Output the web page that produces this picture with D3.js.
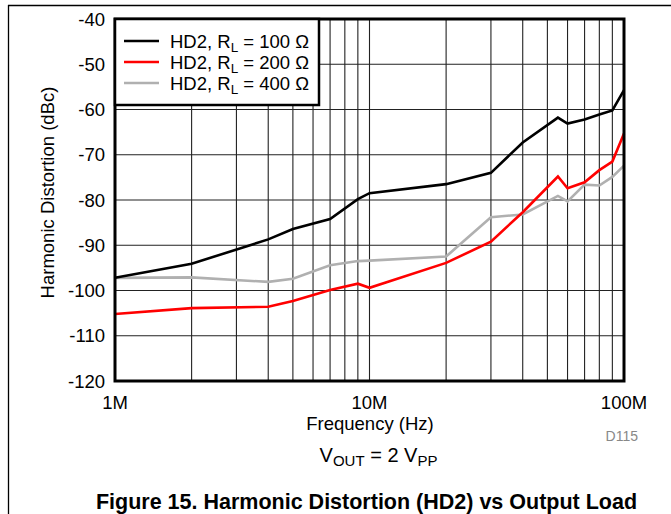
<!DOCTYPE html>
<html><head><meta charset="utf-8">
<script src="https://cdn.jsdelivr.net/npm/d3@7"></script>
<style>
body{margin:0;background:#fff;}
svg{display:block;font-family:"Liberation Sans",Arial,Helvetica,sans-serif;}
</style></head>
<body>
<svg id="chart" width="671" height="514"></svg>
<script>
// Frequencies in Hz
const freqs = [1e6, 2e6, 4e6, 5e6, 7e6, 9e6, 10e6, 20e6, 30e6, 40e6, 55e6, 60e6, 70e6, 80e6, 90e6, 100e6];
const hd2_100 = [-97.2, -94.1, -88.7, -86.4, -84.2, -79.8, -78.5, -76.5, -74.0, -67.3, -61.8, -63.1, -62.2, -61.1, -60.2, -55.7];
const hd2_200 = [-105.2, -103.9, -103.6, -102.3, -99.9, -98.5, -99.4, -93.9, -89.2, -82.7, -74.8, -77.4, -76.1, -73.4, -71.5, -65.3];
const hd2_400 = [-97.2, -97.1, -98.1, -97.4, -94.4, -93.5, -93.4, -92.5, -83.8, -83.2, -79.1, -80.3, -76.6, -76.8, -74.9, -72.4];
const seriesNames = ["100", "200", "400"];
const seriesColors = ["#000000", "#ff0000", "#b0b0b0"];
const yTicks = [-40, -50, -60, -70, -80, -90, -100, -110, -120];
const xTickVals = [1e6, 1e7, 1e8];
const xTickLabels = ["1M", "10M", "100M"];

const svg = d3.select("#chart");
const L = 115, R = 624, T = 19, B = 381;
const FS = 18.5;
const x = d3.scaleLog().domain([1e6, 1e8]).range([L, R]);
const y = d3.scaleLinear().domain([-120, -40]).range([B, T]);

// outer frame lines
svg.append("line").attr("x1", 8.5).attr("x2", 8.5).attr("y1", 5).attr("y2", 514).attr("stroke", "#000").attr("stroke-width", 1.3);
svg.append("line").attr("x1", 8).attr("x2", 671).attr("y1", 5.5).attr("y2", 5.5).attr("stroke", "#000").attr("stroke-width", 1.3);

// grid
const minor = [];
for (let d = 1e6; d < 1e8; d *= 10) for (let k = 2; k <= 9; k++) minor.push(d * k);
minor.push(1e7);
const g = svg.append("g");
g.selectAll(".vg").data(minor).enter().append("line")
  .attr("x1", d => x(d)).attr("x2", d => x(d)).attr("y1", T).attr("y2", B)
  .attr("stroke", "#222").attr("stroke-width", 1.1);
g.selectAll(".hg").data(yTicks).enter().append("line")
  .attr("x1", L).attr("x2", R).attr("y1", d => y(d)).attr("y2", d => y(d))
  .attr("stroke", "#222").attr("stroke-width", 1.1);

// series
const allSeries = [hd2_100, hd2_200, hd2_400];
const line = d3.line().x(d => x(d[0])).y(d => y(d[1]));
[2, 1, 0].forEach(i => {
  svg.append("path").datum(freqs.map((f, j) => [f, allSeries[i][j]]))
    .attr("d", line).attr("fill", "none").attr("stroke", seriesColors[i])
    .attr("stroke-width", 2.6).attr("stroke-linejoin", "miter");
});

// plot frame
svg.append("rect").attr("x", L).attr("y", T).attr("width", R - L).attr("height", B - T)
  .attr("fill", "none").attr("stroke", "#000").attr("stroke-width", 3);

// legend
const lg = svg.append("g");
lg.append("rect").attr("x", L).attr("y", T).attr("width", 204).attr("height", 86)
  .attr("fill", "#fff").attr("stroke", "#000").attr("stroke-width", 2.5);
seriesNames.forEach((n, i) => {
  const yy = 41 + i * 21;
  lg.append("line").attr("x1", 124).attr("x2", 159).attr("y1", yy).attr("y2", yy)
    .attr("stroke", seriesColors[i]).attr("stroke-width", 2.6);
  const t = lg.append("text").attr("x", 170).attr("y", yy + 6.5).attr("font-size", FS).attr("fill", "#000");
  t.append("tspan").text("HD2, R");
  t.append("tspan").attr("font-size", 13.5).attr("dy", 4).text("L");
  t.append("tspan").attr("dy", -4).text(" = " + n + " \u03A9");
});

// y tick labels
svg.selectAll(".yt").data(yTicks).enter().append("text")
  .attr("x", 105).attr("y", d => y(d) + 6.5).attr("text-anchor", "end")
  .attr("font-size", FS).attr("fill", "#000").text(d => d);

// x tick labels
svg.selectAll(".xt").data(xTickVals).enter().append("text")
  .attr("x", d => x(d)).attr("y", 409).attr("text-anchor", "middle")
  .attr("font-size", FS).attr("fill", "#000").text((d, i) => xTickLabels[i]);

// axis titles
svg.append("text").attr("x", 370).attr("y", 429.5).attr("text-anchor", "middle")
  .attr("font-size", FS).text("Frequency (Hz)");
svg.append("text").attr("transform", "translate(54,192.5) rotate(-90)").attr("text-anchor", "middle")
  .attr("font-size", FS).text("Harmonic Distortion (dBc)");
svg.append("text").attr("x", 638).attr("y", 441).attr("text-anchor", "end")
  .attr("font-size", 14).attr("fill", "#888").text("D115");

// Vout note
const v = svg.append("text").attr("x", 378.5).attr("y", 462).attr("text-anchor", "middle").attr("font-size", 20);
v.append("tspan").text("V");
v.append("tspan").attr("font-size", 15).attr("dy", 4).text("OUT");
v.append("tspan").attr("dy", -4).text(" = 2 V");
v.append("tspan").attr("font-size", 15).attr("dy", 4).text("PP");

// caption
svg.append("text").attr("x", 366.5).attr("y", 509).attr("text-anchor", "middle")
  .attr("font-size", 21.5).attr("font-weight", "bold").text("Figure 15. Harmonic Distortion (HD2) vs Output Load");
</script>
</body></html>
